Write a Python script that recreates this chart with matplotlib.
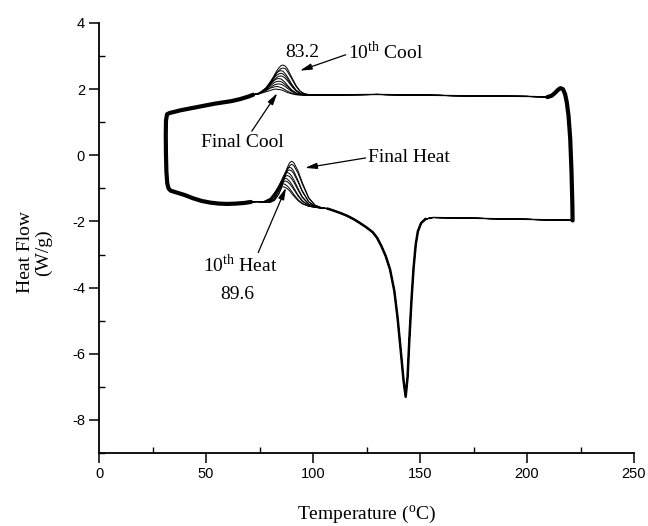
import matplotlib
matplotlib.use("Agg")
import matplotlib.pyplot as plt
from matplotlib.ticker import MultipleLocator

plt.rcParams["mathtext.fontset"] = "custom"
plt.rcParams["mathtext.rm"] = "Liberation Serif"
plt.rcParams["axes.unicode_minus"] = False

SERIF = "Liberation Serif"
SANS = "Liberation Sans"

# --- shared parts of every DSC cycle (temperature in C, heat flow in W/g) ---
# heating from the low-temperature corner up to the melt peak region
heat_left_x = [33.5, 36, 40, 44, 48, 52, 56, 60, 64, 68, 71]
heat_left_y = [-1.07, -1.12, -1.20, -1.30, -1.38, -1.43, -1.46, -1.47, -1.46, -1.44, -1.41]

# melting endotherm
heat_melt_x = [107, 110, 113, 116, 119, 122, 125, 128, 130, 132, 134, 136, 138, 139.5,
               141, 142.3, 143.3, 144.2, 145, 146, 147, 148, 149, 150.5, 152.5]
heat_melt_y = [-1.615, -1.68, -1.75, -1.83, -1.93, -2.05, -2.18, -2.33, -2.50, -2.75, -3.05,
               -3.45, -4.10, -4.90, -5.90, -6.80, -7.30, -6.70, -5.60, -4.40, -3.40, -2.70,
               -2.30, -2.05, -1.93]

heat_flat_x = [152.5, 156, 165, 180, 195, 210, 218, 221.3]
heat_flat_y = [-1.93, -1.88, -1.89, -1.91, -1.93, -1.95, -1.96, -1.97]

# turn-around at high temperature, start of cooling
cool_turn_x = [221.3, 221.2, 220.8, 220.2, 219.4, 218.6, 217.8, 216.8, 215.6, 214.5, 213, 211.5, 209.5]
cool_turn_y = [-1.97, -1.5, -0.5, 0.5, 1.2, 1.6, 1.85, 2.0, 2.03, 1.98, 1.88, 1.80, 1.76]

cool_flat_x = [209.5, 207, 200, 185, 170, 150, 130, 115, 106, 102]
cool_flat_y = [1.76, 1.77, 1.78, 1.79, 1.80, 1.82, 1.84, 1.83, 1.82, 1.82]

# cooling down to the low-temperature corner and turn-around
cool_left_x = [72, 70, 66, 62, 58, 54, 50, 46, 42, 38, 35, 33, 31.8, 31.3, 31.2, 31.3, 31.5, 31.9, 32.5, 33.5]
cool_left_y = [1.83, 1.78, 1.70, 1.64, 1.60, 1.56, 1.51, 1.46, 1.41, 1.36, 1.31, 1.28, 1.24, 1.05,
               0.60, 0.0, -0.5, -0.85, -1.0, -1.07]

# --- cycle-dependent peaks ---
# crystallisation exotherm on cooling, rows: Final Cool (lowest) ... 10th Cool (highest)
cool_peak_x = [72, 75, 78, 80, 82, 83, 84, 85, 86, 87, 88, 90, 92, 94, 96, 99, 102]
cool_peak_y = [
    [1.83, 1.86, 1.92, 1.96, 2.00, 2.00, 1.99, 1.98, 1.96, 1.93, 1.90, 1.86, 1.83, 1.82, 1.82, 1.82, 1.82],
    [1.83, 1.87, 1.96, 2.03, 2.07, 2.08, 2.07, 2.05, 2.02, 1.98, 1.94, 1.88, 1.84, 1.83, 1.82, 1.82, 1.82],
    [1.83, 1.87, 1.96, 2.05, 2.13, 2.15, 2.16, 2.15, 2.12, 2.08, 2.03, 1.93, 1.87, 1.84, 1.82, 1.82, 1.82],
    [1.83, 1.88, 1.99, 2.10, 2.20, 2.23, 2.24, 2.23, 2.19, 2.14, 2.08, 1.96, 1.88, 1.84, 1.82, 1.82, 1.82],
    [1.83, 1.89, 2.03, 2.16, 2.27, 2.31, 2.32, 2.31, 2.26, 2.20, 2.12, 1.98, 1.89, 1.84, 1.83, 1.82, 1.82],
    [1.83, 1.87, 1.99, 2.13, 2.28, 2.35, 2.39, 2.40, 2.38, 2.33, 2.26, 2.09, 1.95, 1.87, 1.83, 1.82, 1.82],
    [1.83, 1.88, 2.02, 2.18, 2.35, 2.42, 2.46, 2.48, 2.46, 2.40, 2.32, 2.12, 1.96, 1.87, 1.84, 1.82, 1.82],
    [1.83, 1.88, 2.04, 2.22, 2.41, 2.49, 2.54, 2.56, 2.54, 2.47, 2.38, 2.16, 1.98, 1.88, 1.84, 1.82, 1.82],
    [1.83, 1.86, 1.99, 2.16, 2.37, 2.48, 2.56, 2.62, 2.64, 2.62, 2.54, 2.32, 2.09, 1.93, 1.86, 1.82, 1.82],
    [1.83, 1.87, 2.01, 2.19, 2.43, 2.55, 2.64, 2.71, 2.73, 2.70, 2.62, 2.37, 2.12, 1.94, 1.86, 1.83, 1.82],
]

# peak on heating, rows: 10th Heat (lowest) ... Final Heat (highest)
heat_peak_x = [71, 74, 77, 80, 82, 84, 85, 86, 87, 88, 89, 90, 91, 93, 95, 98, 101, 104, 107]
heat_peak_y = [
    [-1.41, -1.40, -1.40, -1.32, -1.18, -1.02, -0.96, -0.95, -0.97, -1.01, -1.07, -1.15, -1.23, -1.37, -1.47, -1.54, -1.576, -1.595, -1.615],
    [-1.41, -1.40, -1.40, -1.30, -1.13, -0.94, -0.88, -0.86, -0.88, -0.93, -1.00, -1.09, -1.18, -1.34, -1.45, -1.54, -1.57, -1.595, -1.615],
    [-1.41, -1.40, -1.41, -1.34, -1.20, -0.97, -0.87, -0.80, -0.775, -0.80, -0.855, -0.94, -1.03, -1.23, -1.39, -1.52, -1.57, -1.595, -1.615],
    [-1.41, -1.40, -1.41, -1.33, -1.17, -0.92, -0.80, -0.72, -0.695, -0.72, -0.78, -0.87, -0.98, -1.20, -1.37, -1.52, -1.57, -1.595, -1.615],
    [-1.41, -1.40, -1.41, -1.375, -1.25, -1.01, -0.86, -0.73, -0.64, -0.61, -0.64, -0.71, -0.81, -1.05, -1.275, -1.48, -1.56, -1.595, -1.615],
    [-1.41, -1.40, -1.41, -1.37, -1.23, -0.96, -0.80, -0.65, -0.55, -0.52, -0.55, -0.625, -0.735, -1.00, -1.25, -1.47, -1.56, -1.595, -1.615],
    [-1.41, -1.40, -1.42, -1.40, -1.31, -1.08, -0.92, -0.74, -0.585, -0.47, -0.44, -0.47, -0.55, -0.81, -1.10, -1.41, -1.545, -1.59, -1.615],
    [-1.41, -1.40, -1.42, -1.40, -1.30, -1.055, -0.88, -0.69, -0.52, -0.40, -0.36, -0.39, -0.48, -0.76, -1.07, -1.40, -1.54, -1.59, -1.615],
    [-1.41, -1.40, -1.42, -1.42, -1.36, -1.18, -1.03, -0.84, -0.63, -0.45, -0.32, -0.27, -0.31, -0.54, -0.87, -1.30, -1.51, -1.585, -1.61],
    [-1.41, -1.40, -1.42, -1.42, -1.36, -1.16, -1.00, -0.79, -0.57, -0.37, -0.23, -0.18, -0.22, -0.47, -0.82, -1.28, -1.51, -1.58, -1.61],
]

fig = plt.figure(figsize=(6.48, 5.26), dpi=100)
ax = fig.add_axes([99 / 648, 1 - 453 / 526, 535 / 648, 430 / 526])

# one closed loop per cycle
for k in range(len(cool_peak_y)):
    xs = (heat_left_x + heat_peak_x + heat_melt_x + heat_flat_x + cool_turn_x
          + cool_flat_x + cool_peak_x[::-1] + cool_left_x)
    ys = (heat_left_y + heat_peak_y[k] + heat_melt_y + heat_flat_y + cool_turn_y
          + cool_flat_y + cool_peak_y[k][::-1] + cool_left_y)
    ax.plot(xs, ys, color="black", lw=0.7)

# the overlapping cycles make these parts look heavy
ax.plot(cool_left_x + heat_left_x, cool_left_y + heat_left_y, color="black", lw=3.0,
        solid_capstyle="round", solid_joinstyle="round")
ax.plot(cool_turn_x, cool_turn_y, color="black", lw=3.0, solid_capstyle="round")
ax.plot(heat_melt_x, heat_melt_y, color="black", lw=1.8, solid_joinstyle="round")
ax.plot(heat_flat_x, heat_flat_y, color="black", lw=1.0)
ax.plot(cool_flat_x, cool_flat_y, color="black", lw=1.0)

# annotations
txt = dict(family=SERIF, fontsize=14, va="baseline")
arr = dict(arrowstyle="-|>,head_length=0.7,head_width=0.18", color="black", lw=0.9,
           shrinkA=0, shrinkB=0)
ax.text(95.1, 2.98, "83.2", ha="center", **txt)
ax.text(116.4, 2.92, r"10$^{\mathrm{th}}$ Cool", ha="left", **txt)
ax.annotate("", xy=(93.9, 2.56), xytext=(115.3, 3.04), arrowprops=arr)
ax.text(67.1, 0.24, "Final Cool", ha="center", **txt)
ax.annotate("", xy=(83.3, 1.88), xytext=(71.4, 0.73), arrowprops=arr)
ax.text(125.8, -0.19, "Final Heat", ha="left", **txt)
ax.annotate("", xy=(96.3, -0.38), xytext=(124.6, -0.08), arrowprops=arr)
ax.text(65.9, -3.53, r"10$^{\mathrm{th}}$ Heat", ha="center", **txt)
ax.text(64.7, -4.34, "89.6", ha="center", **txt)
ax.annotate("", xy=(87.4, -0.98), xytext=(74.4, -2.94), arrowprops=arr)

ax.set_xlim(0, 250)
ax.set_ylim(-9, 4)
ax.xaxis.set_major_locator(MultipleLocator(50))
ax.xaxis.set_minor_locator(MultipleLocator(25))
ax.yaxis.set_major_locator(MultipleLocator(2))
ax.yaxis.set_minor_locator(MultipleLocator(1))
ax.tick_params(which="major", direction="out", length=7, width=1.1, labelsize=10.5, pad=3)
ax.tick_params(which="minor", direction="in", length=4, width=1.0)
for lab in ax.get_xticklabels() + ax.get_yticklabels():
    lab.set_family(SANS)

for side in ("top", "right"):
    ax.spines[side].set_visible(False)
for side in ("left", "bottom"):
    ax.spines[side].set_linewidth(1.3)

ax.set_xlabel(r"Temperature ($^{\mathrm{o}}$C)", family=SERIF, fontsize=14)
ax.xaxis.label.set_verticalalignment("center")
ax.xaxis.set_label_coords(0.5, -0.144)
ax.set_ylabel("Heat Flow\n(W/g)", family=SERIF, fontsize=14, linespacing=1.1)
ax.yaxis.label.set_verticalalignment("center")
ax.yaxis.set_label_coords(-0.12, 0.467)

fig.savefig("out.png", dpi=100)
